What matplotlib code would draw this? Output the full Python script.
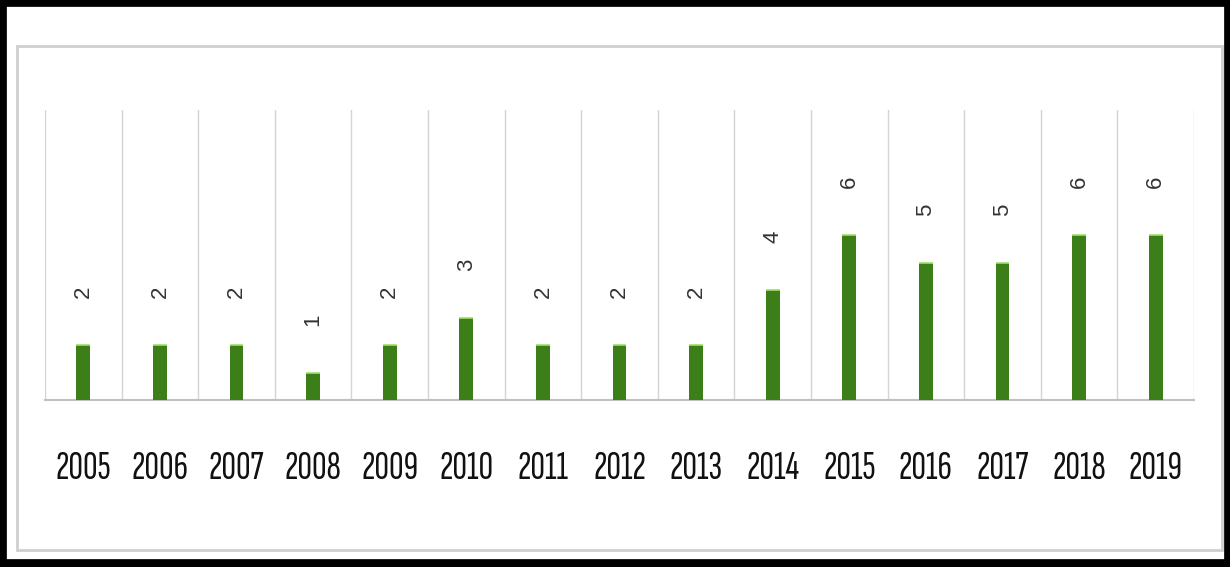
import numpy as np
import matplotlib
matplotlib.use('Agg')
import matplotlib.pyplot as plt
from matplotlib.patches import Rectangle

years = ['2005', '2006', '2007', '2008', '2009', '2010', '2011', '2012',
         '2013', '2014', '2015', '2016', '2017', '2018', '2019']
counts = [2, 2, 2, 1, 2, 3, 2, 2, 2, 4, 6, 5, 5, 6, 6]

bar_color = '#3c7f19'
cap_color = '#9fe06a'
grid_color = '#d4d4d4'

fig = plt.figure(figsize=(12.3, 5.67), dpi=100)

# black outer frame and light gray chart frame
fig.patches.append(Rectangle((0.002, 0.006), 0.997, 0.990, transform=fig.transFigure,
                             fill=False, edgecolor='black', linewidth=7))
fig.patches.append(Rectangle((17 / 1230, 1 - 550 / 567), (1222 - 17) / 1230, (550 - 46) / 567,
                             transform=fig.transFigure, fill=False,
                             edgecolor='#cfcfcf', linewidth=2))

ax = fig.add_axes([45 / 1230, 1 - 400 / 567, (1194 - 45) / 1230, 290 / 567])
x = np.arange(len(years))
ax.bar(x, counts, width=0.18, color=bar_color, zorder=3)
# light green top edge of each bar
ax.hlines(counts, x - 0.09, x + 0.09, color=cap_color, linewidth=1.2, zorder=4)

for xi, c in zip(x, counts):
    ax.annotate(str(c), (xi, c), xytext=(0, 38), textcoords='offset points',
                rotation=90, ha='center', va='center', fontsize=16,
                color='#333333', family=['Liberation Sans', 'DejaVu Sans'])

ax.set_xlim(-0.5, len(years) - 0.5)
ax.set_ylim(0, 10.55)
ax.set_yticks([])
ax.set_xticks(x)
ax.set_xticklabels(years, family=['Sofia Sans Extra Condensed', 'DejaVu Sans'],
                   fontsize=29, color='#111111')
ax.set_xticks(np.arange(-0.5, len(years), 1), minor=True)
ax.tick_params(axis='x', which='major', length=0, pad=37)
ax.tick_params(axis='x', which='minor', length=0)
ax.grid(True, axis='x', which='minor', color=grid_color, linewidth=1, zorder=0)
for side in ['top', 'left', 'right']:
    ax.spines[side].set_visible(False)
ax.spines['bottom'].set_color('#c0c0c0')
ax.spines['bottom'].set_linewidth(1.5)

fig.savefig('out.png')
